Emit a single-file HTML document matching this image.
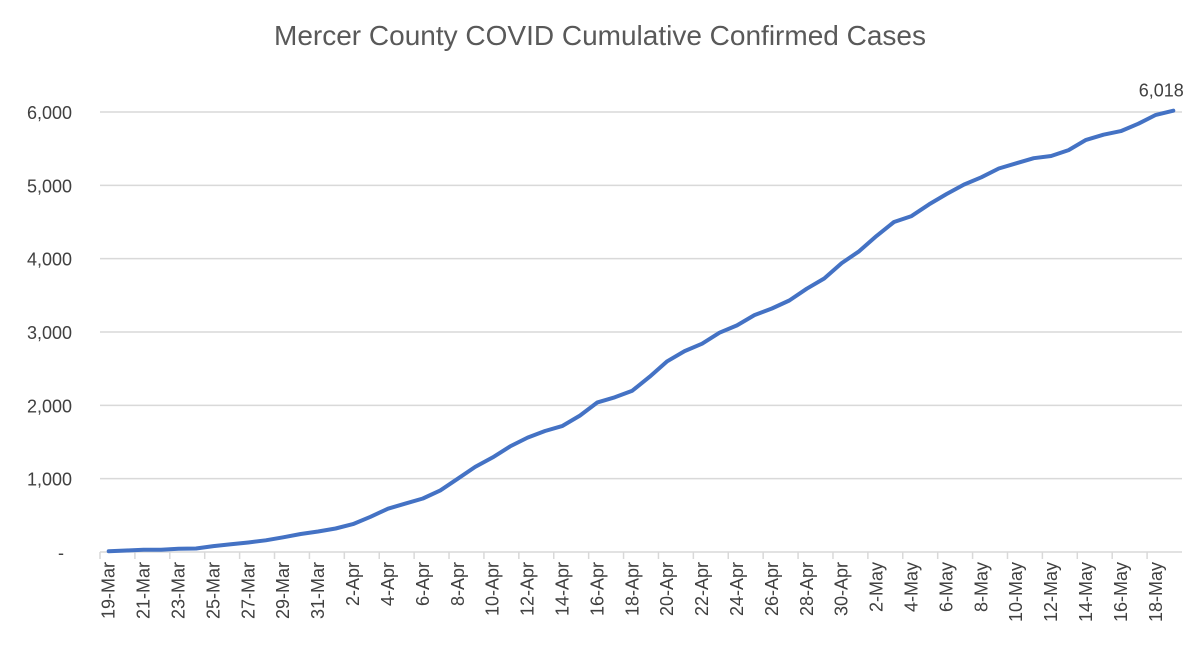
<!DOCTYPE html>
<html><head><meta charset="utf-8"><style>
body{margin:0;background:#fff;}
svg text{font-family:"Liberation Sans",sans-serif;}
</style></head><body>
<svg id="chart" width="1200" height="646" xmlns="http://www.w3.org/2000/svg">
<text x="600" y="45" text-anchor="middle" font-size="28" fill="#595959">Mercer County COVID Cumulative Confirmed Cases</text>
<g id="grid"></g><g id="xaxis"></g><g id="series"></g>
</svg>
<script>
const startDate = [2020, 2, 19];
const cases = [10,20,30,32,45,48,80,105,130,160,200,245,280,320,380,480,590,660,730,840,1000,1160,1290,1440,1560,1650,1720,1860,2040,2110,2200,2390,2600,2740,2840,2990,3090,3230,3320,3430,3590,3730,3940,4100,4310,4500,4580,4740,4880,5010,5110,5230,5300,5370,5400,5480,5620,5690,5740,5840,5960,6018];
const yTicks = [0,1000,2000,3000,4000,5000,6000];
const yTickLabels = ['-','1,000','2,000','3,000','4,000','5,000','6,000'];
const NS='http://www.w3.org/2000/svg';
const x0=100, x1=1182, yBase=552, yTop=112, yMax=6000;
const step=(x1-x0)/cases.length;
const xs=i=>x0+step*(i+0.5);
const ys=v=>yBase-(v/yMax)*(yBase-yTop);
function mk(tag,attrs,parent){const e=document.createElementNS(NS,tag);for(const k in attrs)e.setAttribute(k,attrs[k]);parent.appendChild(e);return e;}
const grid=document.getElementById('grid');
yTicks.forEach((t,i)=>{
  if(t>0){const l=mk('line',{x1:x0,x2:x1,y1:ys(t),y2:ys(t),stroke:'#d9d9d9','stroke-width':1.5},grid);
  
  }
  const tx=mk('text',{x:i===0?64:72,y:ys(t)+7,'text-anchor':'end','font-size':18,fill:'#404040'},grid);
  tx.textContent=yTickLabels[i];
  
  
});
const xa=document.getElementById('xaxis');
const ax=mk('line',{x1:x0,x2:x1,y1:yBase,y2:yBase,stroke:'#d9d9d9','stroke-width':1.5},xa);


const months=['Jan','Feb','Mar','Apr','May','Jun'];
for(let i=0;i<cases.length;i++){
  if(i%2===0){
    const tk=mk('line',{x1:x0+step*i,x2:x0+step*i,y1:yBase,y2:yBase+7,stroke:'#d9d9d9','stroke-width':1.5},xa);
    
    
    if(i<cases.length-1||true){
      const d=new Date(startDate[0],startDate[1],startDate[2]+i);
      const lbl=d.getDate()+'-'+months[d.getMonth()];
      const px=xs(i)+6, py=yBase+10;
      const tx=mk('text',{x:px,y:py,'text-anchor':'end','font-size':18,fill:'#404040',transform:`rotate(-90 ${px} ${py})`},xa);
      tx.textContent=lbl;
      
      
    }
  }
}
const s=document.getElementById('series');
const pts=cases.map((v,i)=>xs(i).toFixed(1)+','+ys(v).toFixed(1)).join(' ');
const pl=mk('polyline',{points:pts,fill:'none',stroke:'#4472c4','stroke-width':4,'stroke-linejoin':'round','stroke-linecap':'round'},s);


const last=cases.length-1;
const lab=mk('text',{x:xs(last)-12,y:ys(cases[last])-14,'text-anchor':'middle','font-size':18,fill:'#404040'},s);
lab.textContent=cases[last].toLocaleString('en-US');


</script>
</body></html>
